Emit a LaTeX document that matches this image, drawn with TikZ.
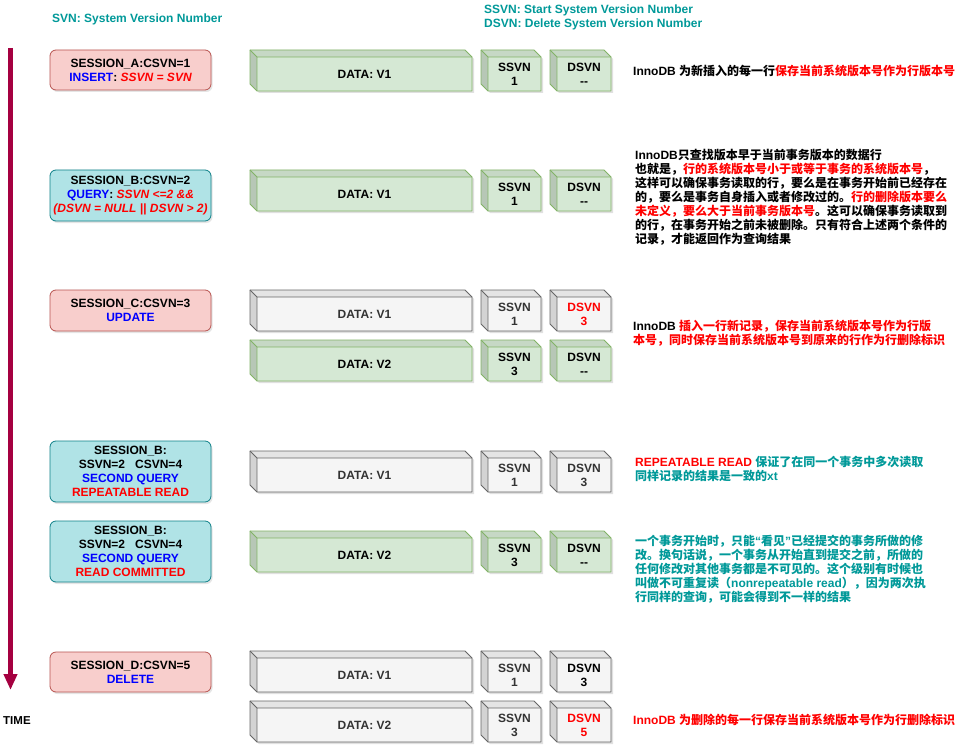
\documentclass[tikz,border=0pt]{standalone}
\usepackage{fontspec}
\setmainfont{Liberation Sans}
\newfontfamily\cjk{Noto Sans CJK SC}
\usetikzlibrary{arrows.meta,shadows}
\definecolor{redfill}{HTML}{F8CECC}
\definecolor{redline}{HTML}{B85450}
\definecolor{cyanfill}{HTML}{B0E3E6}
\definecolor{cyanline}{HTML}{0E8088}
\definecolor{greenfill}{HTML}{D5E8D4}
\definecolor{greenline}{HTML}{82B366}
\definecolor{grayfill}{HTML}{F5F5F5}
\definecolor{grayline}{HTML}{666666}
\definecolor{graytext}{HTML}{333333}
\definecolor{tealtxt}{HTML}{009999}
\definecolor{timec}{HTML}{A50040}
\definecolor{bluetxt}{HTML}{0000FF}
\definecolor{redtxt}{HTML}{FF0000}
\newcommand\lat[1]{{\rmfamily #1}}
\newcommand\rd[1]{\textcolor{redtxt}{#1}}
\newcommand\bl[1]{\textcolor{bluetxt}{#1}}
% cube: name, x1, y1, x2, y2, fill, line, text colour, text
\newcommand\cubebox[9]{%
  \fill[black, opacity=0.12] (#2+2,#3+2) -- (#4-5,#3+2) -- (#4+2,#3+9) -- (#4+2,#5+2) -- (#2+9,#5+2) -- (#2+2,#5-5) -- cycle;
  \fill[#6!93!black] (#2,#3) -- (#4-7,#3) -- (#4,#3+7) -- (#2+7,#3+7) -- cycle;
  \fill[#6!86!black] (#2,#3) -- (#2+7,#3+7) -- (#2+7,#5) -- (#2,#5-7) -- cycle;
  \fill[#6] (#2+7,#3+7) rectangle (#4,#5);
  \draw[#7, line width=0.8pt, line join=round] (#2,#3) -- (#4-7,#3) -- (#4,#3+7) -- (#4,#5) -- (#2+7,#5) -- (#2,#5-7) -- cycle;
  \draw[#7, line width=0.8pt] (#2,#3) -- (#2+7,#3+7) -- (#4,#3+7) (#2+7,#3+7) -- (#2+7,#5);
  \node[cubetxt, text=#8] (#1) at ({(#2+7+#4)/2},{(#3+7+#5)/2}) {#9};
}
\tikzset{
  sess/.style={draw, rounded corners=6pt, line width=0.8pt, minimum width=161pt,
    align=center, font=\fontsize{12}{14}\selectfont\bfseries, inner sep=0pt,
    drop shadow={shadow xshift=1.5pt, shadow yshift=-2pt, opacity=0.2}},
  sessred/.style={sess, fill=redfill, draw=redline},
  sesscyan/.style={sess, fill=cyanfill, draw=cyanline},
  cubetxt/.style={align=center, font=\fontsize{12}{14}\selectfont\bfseries, inner sep=0pt},
  note/.style={align=left, anchor=north west, inner sep=0pt, font=\cjk\fontsize{12}{14}\selectfont\bfseries},
  hdr/.style={anchor=west, inner sep=0pt, text=tealtxt, font=\fontsize{12}{14}\selectfont\bfseries},
}
\begin{document}
\begin{tikzpicture}[x=1pt, y=-1pt]
\useasboundingbox (0,0) rectangle (963,746);
\fill[white] (0,0) rectangle (963,746);

% headers
\node[hdr] (h1) at (52,19) {SVN: System Version Number};
\node[hdr] (h2) at (484,10) {SSVN: Start System Version Number};
\node[hdr] (h3) at (484,24) {DSVN: Delete System Version Number};

% time arrow
\coordinate (tstart) at (10.5,48);
\coordinate (tend) at (10.5,690);
\draw[timec, line width=4.5pt, -{Triangle[length=16pt,width=13pt]}] (tstart) -- (tend);
\node[anchor=west, inner sep=0pt, font=\fontsize{11.5}{14}\selectfont\bfseries] (time) at (3,721) {TIME};

% sessions
\node[sessred, minimum height=40pt] (sA) at (130.5,70) {SESSION\_A:CSVN=1\\\bl{INSERT}: \rd{\itshape SSVN = SVN}};
\node[sesscyan, minimum height=51pt] (sB) at (130.5,195.5) {SESSION\_B:CSVN=2\\\bl{QUERY}: \rd{\itshape SSVN <=2 \&\&}\\\rd{\itshape (DSVN = NULL || DSVN > 2)}};
\node[sessred, minimum height=41pt] (sC) at (130.5,310.5) {SESSION\_C:CSVN=3\\\bl{UPDATE}};
\node[sesscyan, minimum height=61pt] (sRR) at (130.5,471.5) {SESSION\_B:\\SSVN=2\ \ \ CSVN=4\\\bl{SECOND QUERY}\\\rd{REPEATABLE READ}};
\node[sesscyan, minimum height=61pt] (sRC) at (130.5,551.5) {SESSION\_B:\\SSVN=2\ \ \ CSVN=4\\\bl{SECOND QUERY}\\\rd{READ COMMITTED}};
\node[sessred, minimum height=40pt] (sD) at (130.5,672) {SESSION\_D:CSVN=5\\\bl{DELETE}};

% cubes
\cubebox{d1}{250}{50}{472}{91}{greenfill}{greenline}{black}{DATA: V1}
\cubebox{s1}{481}{50}{541}{91}{greenfill}{greenline}{black}{SSVN\\1}
\cubebox{e1}{550}{50}{611}{91}{greenfill}{greenline}{black}{DSVN\\-{}-}

\cubebox{d2}{250}{170}{472}{211}{greenfill}{greenline}{black}{DATA: V1}
\cubebox{s2}{481}{170}{541}{211}{greenfill}{greenline}{black}{SSVN\\1}
\cubebox{e2}{550}{170}{611}{211}{greenfill}{greenline}{black}{DSVN\\-{}-}

\cubebox{d3}{250}{290}{472}{331}{grayfill}{grayline}{graytext}{DATA: V1}
\cubebox{s3}{481}{290}{541}{331}{grayfill}{grayline}{graytext}{SSVN\\1}
\cubebox{e3}{550}{290}{611}{331}{grayfill}{grayline}{redtxt}{DSVN\\3}

\cubebox{d4}{250}{340}{472}{381}{greenfill}{greenline}{black}{DATA: V2}
\cubebox{s4}{481}{340}{541}{381}{greenfill}{greenline}{black}{SSVN\\3}
\cubebox{e4}{550}{340}{611}{381}{greenfill}{greenline}{black}{DSVN\\-{}-}

\cubebox{d5}{250}{451}{472}{492}{grayfill}{grayline}{graytext}{DATA: V1}
\cubebox{s5}{481}{451}{541}{492}{grayfill}{grayline}{graytext}{SSVN\\1}
\cubebox{e5}{550}{451}{611}{492}{grayfill}{grayline}{graytext}{DSVN\\3}

\cubebox{d6}{250}{531}{472}{572}{greenfill}{greenline}{black}{DATA: V2}
\cubebox{s6}{481}{531}{541}{572}{greenfill}{greenline}{black}{SSVN\\3}
\cubebox{e6}{550}{531}{611}{572}{greenfill}{greenline}{black}{DSVN\\-{}-}

\cubebox{d7}{250}{651}{472}{692}{grayfill}{grayline}{graytext}{DATA: V1}
\cubebox{s7}{481}{651}{541}{692}{grayfill}{grayline}{graytext}{SSVN\\1}
\cubebox{e7}{550}{651}{611}{692}{grayfill}{grayline}{black}{DSVN\\3}

\cubebox{d8}{250}{701}{472}{742}{grayfill}{grayline}{graytext}{DATA: V2}
\cubebox{s8}{481}{701}{541}{742}{grayfill}{grayline}{graytext}{SSVN\\3}
\cubebox{e8}{550}{701}{611}{742}{grayfill}{grayline}{redtxt}{DSVN\\5}

% notes
\node[note, anchor=west] (n1) at (633,71) {\lat{InnoDB }为新插入的每一行\rd{保存当前系统版本号作为行版本号}};
\node[note] (n2) at (635,149.5) {\lat{InnoDB}只查找版本早于当前事务版本的数据行\\
也就是，\rd{行的系统版本号小于或等于事务的系统版本号}，\\
这样可以确保事务读取的行，要么是在事务开始前已经存在\\
的，要么是事务自身插入或者修改过的。\rd{行的删除版本要么}\\
\rd{未定义，要么大于当前事务版本号}。这可以确保事务读取到\\
的行，在事务开始之前未被删除。只有符合上述两个条件的\\
记录，才能返回作为查询结果};
\node[note, text=redtxt] (n3) at (633,319.5) {\textcolor{black}{\lat{InnoDB }}插入一行新记录，保存当前系统版本号作为行版\\
本号，同时保存当前系统版本号到原来的行作为行删除标识};
\node[note, text=tealtxt] (n4) at (635,455.5) {\rd{\lat{REPEATABLE READ }}保证了在同一个事务中多次读取\\
同样记录的结果是一致的\lat{xt}};
\node[note, text=tealtxt] (n5) at (635,534.5) {一个事务开始时，只能\lat{“}看见\lat{”}已经提交的事务所做的修\\
改。换句话说，一个事务从开始直到提交之前，所做的\\
任何修改对其他事务都是不可见的。这个级别有时候也\\
叫做不可重复读（\lat{nonrepeatable read}），因为两次执\\
行同样的查询，可能会得到不一样的结果};
\node[note, anchor=west, text=redtxt] (n6) at (633,720) {\lat{InnoDB }为删除的每一行保存当前系统版本号作为行删除标识};
\end{tikzpicture}
\end{document}
